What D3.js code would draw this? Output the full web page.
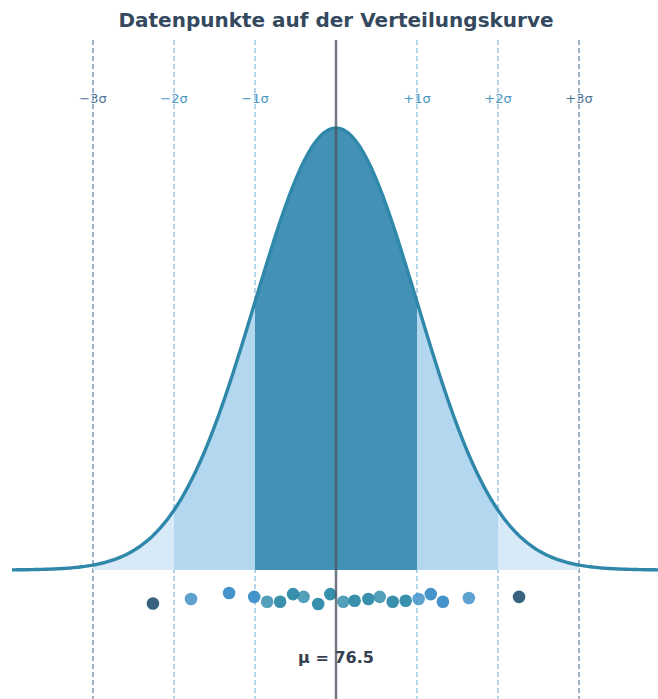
<!DOCTYPE html>
<html><head><meta charset="utf-8">
<script src="https://cdn.jsdelivr.net/npm/d3@7"></script>
<style>body{margin:0;background:#fff;}svg{display:block;font-family:"DejaVu Sans",sans-serif;}</style>
</head><body><div id="chart"></div>
<script>
const title = "Datenpunkte auf der Verteilungskurve";
const mean = 76.5;
const sd = 10;
const sigmaSteps = [-3, -2, -1, 1, 2, 3];
const sigmaLabels = ["\u22123\u03c3", "\u22122\u03c3", "\u22121\u03c3", "+1\u03c3", "+2\u03c3", "+3\u03c3"];
const values = [53.9, 58.6, 63.3, 66.4, 68.0, 69.6, 71.2, 72.5, 74.3, 75.8, 77.4, 78.8, 80.5, 81.9, 83.5, 85.1, 86.7, 88.2, 89.7, 92.9, 99.1];
const jitter = [-0.9, -0.1, 1.0, 0.3, -0.6, -0.6, 0.8, 0.3, -1.0, 0.8, -0.6, -0.4, -0.1, 0.3, -0.6, -0.4, -0.1, 0.8, -0.6, 0.1, 0.3];

const W = 658, H = 699;
const svg = d3.select("#chart").append("svg").attr("width", W).attr("height", H);

const x = d3.scaleLinear().domain([mean - 4 * sd, mean + 4 * sd]).range([12, 660]);
const pdf = v => Math.exp(-0.5 * ((v - mean) / sd) ** 2) / (sd * Math.sqrt(2 * Math.PI));
const peak = pdf(mean);
const y = d3.scaleLinear().domain([0, peak]).range([570, 128]);
const yj = d3.scaleLinear().domain([-1, 1]).range([604, 593]);

const sample = (a, b, n) => d3.range(n + 1).map(i => a + (b - a) * i / n);

// sigma labels (under lines)
svg.append("g").selectAll("text").data(sigmaSteps).join("text")
  .attr("x", s => x(mean + s * sd)).attr("y", 103)
  .attr("text-anchor", "middle").attr("font-size", 13)
  .attr("fill", s => Math.abs(s) === 3 ? "#4f7594" : "#4b97c4")
  .text((s, i) => sigmaLabels[i]);

// dashed sigma lines
svg.append("g").selectAll("line").data(sigmaSteps).join("line")
  .attr("x1", s => x(mean + s * sd)).attr("x2", s => x(mean + s * sd))
  .attr("y1", 40).attr("y2", H)
  .attr("stroke", s => Math.abs(s) === 3 ? "#5d82a3" : "#80badd")
  .attr("stroke-width", 1.2).attr("stroke-dasharray", "5,3");

// bands
const area = d3.area().x(v => x(v)).y0(y(0)).y1(v => y(pdf(v)));
const bands = [
  {a: -3, b: -2, c: "#d8eaf7"}, {a: 2, b: 3, c: "#d8eaf7"},
  {a: -2, b: -1, c: "#b3d7ef"}, {a: 1, b: 2, c: "#b3d7ef"},
  {a: -1, b: 1, c: "#4392b6"}
];
svg.append("g").selectAll("path").data(bands).join("path")
  .attr("d", d => area(sample(mean + d.a * sd, mean + d.b * sd, 100)))
  .attr("fill", d => d.c);

// curve
const line = d3.line().x(v => x(v)).y(v => y(pdf(v)));
svg.append("path").attr("d", line(sample(mean - 4 * sd, mean + 4 * sd, 400)))
  .attr("fill", "none").attr("stroke", "#2f88aa").attr("stroke-width", 3.4);

// points
const colorOf = v => {
  const z = Math.abs(v - mean) / sd;
  if (z > 2) return "#2c5a79";
  if (z > 1) return "#3a8ec6";
  return "#2e8aa9";
};
svg.append("g").selectAll("circle").data(values).join("circle")
  .attr("cx", v => x(v)).attr("cy", (v, i) => yj(jitter[i]))
  .attr("r", 6.3).attr("fill", colorOf).attr("fill-opacity", (v, i) => i % 3 === 1 ? 0.82 : 0.95);

// mean label
svg.append("text").attr("x", x(mean)).attr("y", 663).attr("text-anchor", "middle")
  .attr("font-size", 16).attr("font-weight", "bold").attr("fill", "#34404f")
  .text("\u03bc = " + mean);

// mean line
svg.append("line").attr("x1", x(mean)).attr("x2", x(mean)).attr("y1", 40).attr("y2", H)
  .attr("stroke", "#4b5563").attr("stroke-opacity", 0.8).attr("stroke-width", 2.5);

// title
svg.append("text").attr("x", 336).attr("y", 27).attr("text-anchor", "middle")
  .attr("font-size", 20).attr("font-weight", "bold").attr("fill", "#34495e").text(title);
</script></body></html>
